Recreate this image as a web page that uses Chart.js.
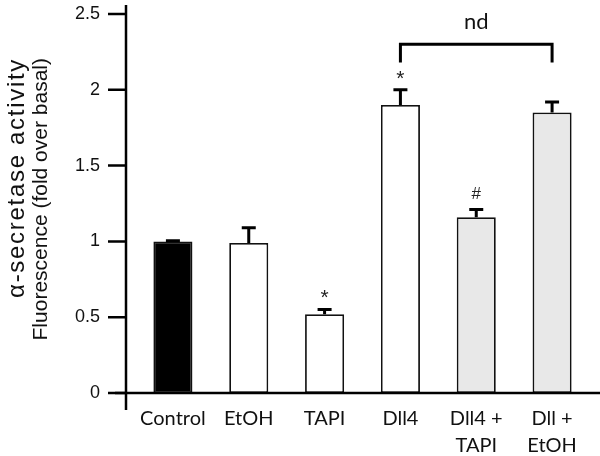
<!DOCTYPE html>
<html>
<head>
<meta charset="utf-8">
<script src="https://cdn.jsdelivr.net/npm/chart.js@4"></script>
<style>
  body { margin: 0; background: #fff; }
  canvas { display: block; }
</style>
</head>
<body>
<canvas id="c" width="600" height="456"></canvas>
<script>
// bar chart with error bars
const categories = ['Control', 'EtOH', 'TAPI', 'Dll4', ['Dll4 +', 'TAPI'], ['Dll +', 'EtOH']];
const means = [1.0, 0.99, 0.52, 1.9, 1.16, 1.85];
const errors = [0.005, 0.1, 0.03, 0.1, 0.05, 0.07];
const marks = ['', '', '*', '*', '#', ''];
const barColors = ['#000000', '#ffffff', '#ffffff', '#ffffff', '#e8e8e8', '#e8e8e8'];
const yTicks = [0, 0.5, 1, 1.5, 2, 2.5];
const titleLines = ['\u03B1-secretase activity', 'Fluorescence (fold over basal)'];
const bracketFrom = 3;
const bracketTo = 5;
const bracketLevel = 2.3;
const bracketFoot = 2.18;
const bracketLabel = 'nd';

const axesPlugin = {
  id: 'axes',
  beforeDatasetsDraw(chart) {
    const ctx = chart.ctx;
    const area = chart.chartArea;
    const y = chart.scales.y;
    const ax = area.left - 9;
    ctx.save();
    ctx.strokeStyle = '#000';
    ctx.lineWidth = 2.5;
    ctx.beginPath();
    ctx.moveTo(ax, 5);
    ctx.lineTo(ax, area.bottom + 17);
    yTicks.forEach(v => {
      const py = y.getPixelForValue(v);
      ctx.moveTo(ax - 18, py);
      ctx.lineTo(ax, py);
    });
    ctx.stroke();
    ctx.restore();
  },
  afterDatasetsDraw(chart) {
    const ctx = chart.ctx;
    const area = chart.chartArea;
    const y = chart.scales.y;
    const bars = chart.getDatasetMeta(0).data;
    ctx.save();
    // x axis line over the bar bottoms
    ctx.strokeStyle = '#000';
    ctx.lineWidth = 2.5;
    ctx.beginPath();
    ctx.moveTo(area.left - 20, area.bottom);
    ctx.lineTo(chart.width, area.bottom);
    ctx.stroke();

    // error bars
    ctx.lineWidth = 3;
    bars.forEach((b, i) => {
      const top = y.getPixelForValue(means[i] + errors[i]);
      ctx.beginPath();
      ctx.moveTo(b.x, b.y);
      ctx.lineTo(b.x, top);
      ctx.moveTo(b.x - 7, top);
      ctx.lineTo(b.x + 7, top);
      ctx.stroke();
      if (marks[i]) {
        ctx.fillStyle = '#222';
        ctx.font = marks[i] === '#' ? '17px "Liberation Sans"' : '21px "Liberation Sans"';
        ctx.textAlign = 'center';
        ctx.textBaseline = 'middle';
        ctx.fillText(marks[i], b.x, top - (marks[i] === '#' ? 15 : 11));
      }
    });

    // bracket
    const x1 = bars[bracketFrom].x;
    const x2 = bars[bracketTo].x;
    const by = y.getPixelForValue(bracketLevel);
    const fy = y.getPixelForValue(bracketFoot);
    ctx.lineWidth = 3;
    ctx.beginPath();
    ctx.moveTo(x1, fy);
    ctx.lineTo(x1, by);
    ctx.lineTo(x2, by);
    ctx.lineTo(x2, fy);
    ctx.stroke();
    ctx.fillStyle = '#111';
    ctx.font = '22px Lato';
    ctx.textAlign = 'center';
    ctx.textBaseline = 'middle';
    ctx.fillText(bracketLabel, (x1 + x2) / 2, by - 22);

    // y title, two rotated lines
    ctx.fillStyle = '#111';
    ctx.textAlign = 'right';
    ctx.textBaseline = 'alphabetic';
    ctx.save();
    ctx.translate(24, 58);
    ctx.rotate(-Math.PI / 2);
    ctx.font = '24px "Liberation Sans"';
    ctx.letterSpacing = '1.7px';
    ctx.fillText(titleLines[0], 0, 0);
    ctx.restore();
    ctx.save();
    ctx.translate(47, 58);
    ctx.rotate(-Math.PI / 2);
    ctx.font = '21px "Liberation Sans"';
    ctx.fillText(titleLines[1], 0, 0);
    ctx.restore();
    ctx.restore();
  }
};

new Chart(document.getElementById('c').getContext('2d'), {
  type: 'bar',
  data: {
    labels: categories,
    datasets: [{
      data: means,
      backgroundColor: barColors,
      borderColor: '#111',
      borderWidth: 1.8,
      borderSkipped: false,
      categoryPercentage: 1,
      barPercentage: 0.515
    }]
  },
  options: {
    responsive: false,
    animation: false,
    devicePixelRatio: 1,
    layout: { padding: { top: 14, right: 10, left: 0, bottom: 0 } },
    plugins: {
      legend: { display: false },
      tooltip: { enabled: false }
    },
    scales: {
      x: {
        grid: { display: false },
        border: { display: false },
        afterFit: s => { s.height = 63; },
        ticks: {
          color: '#111',
          padding: 4,
          maxRotation: 0,
          font: { family: 'Lato', size: 20, lineHeight: 1.35 }
        }
      },
      y: {
        min: 0,
        max: 2.5,
        grid: { display: false },
        border: { display: false },
        afterFit: s => { s.width = 135; s.paddingTop = 0; s.paddingBottom = 0; },
        afterBuildTicks: s => { s.ticks = yTicks.map(v => ({ value: v })); },
        ticks: {
          color: '#111',
          padding: 27,
          callback: v => String(v),
          font: { family: '"Liberation Sans"', size: 18 }
        }
      }
    }
  },
  plugins: [axesPlugin]
});
</script>
</body>
</html>
